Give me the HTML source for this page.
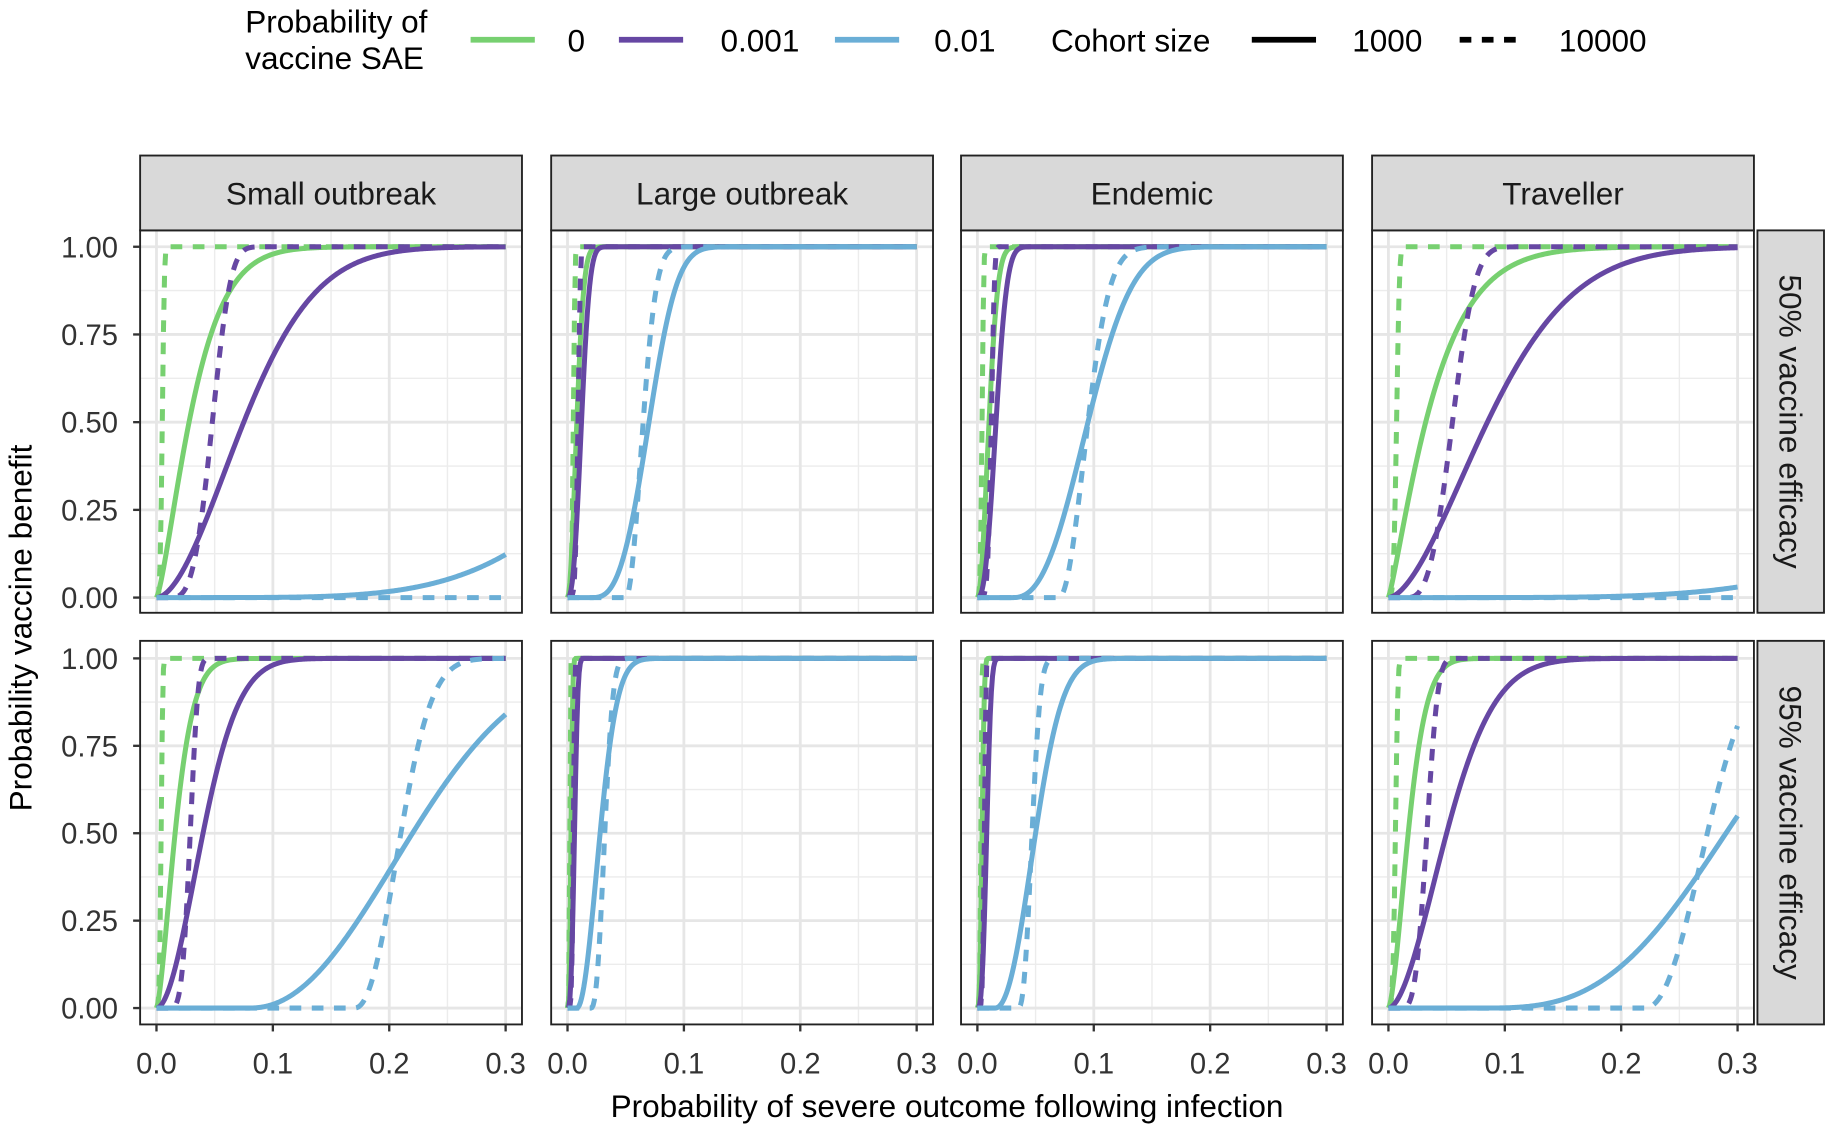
<!DOCTYPE html>
<html><head><meta charset="utf-8">
<style>
html,body{margin:0;padding:0;background:#fff;}
svg{display:block;}
text{font-family:"Liberation Sans",Arial,sans-serif;}
</style></head>
<body>
<svg id="s" width="1831" height="1125" viewBox="0 0 1568 962" preserveAspectRatio="none" xmlns="http://www.w3.org/2000/svg">
<rect width="1568" height="962" fill="#fff"/>
<!-- legend -->
<text x="210" y="28" font-size="27" fill="#000">Probability of</text>
<text x="210" y="59" font-size="27" fill="#000">vaccine SAE</text>
<line x1="403" y1="34" x2="458" y2="34" stroke="#77d070" stroke-width="5"/>
<text x="486" y="44" font-size="27">0</text>
<line x1="530" y1="34" x2="585" y2="34" stroke="#6647a3" stroke-width="5"/>
<text x="617" y="44" font-size="27">0.001</text>
<line x1="715" y1="34" x2="770" y2="34" stroke="#6aaed6" stroke-width="5"/>
<text x="800" y="44" font-size="27">0.01</text>
<text x="900" y="44" font-size="27">Cohort size</text>
<line x1="1072" y1="34" x2="1127" y2="34" stroke="#000" stroke-width="5"/>
<text x="1158" y="44" font-size="27">1000</text>
<line x1="1250" y1="34" x2="1305" y2="34" stroke="#000" stroke-width="5" stroke-dasharray="10 9"/>
<text x="1335" y="44" font-size="27">10000</text>
<text transform="translate(27,537) rotate(-90)" text-anchor="middle" font-size="27">Probability vaccine benefit</text>
<text x="811" y="955" text-anchor="middle" font-size="27">Probability of severe outcome following infection</text>
<g id="g"></g>
</svg>
<script>
(function(){
var NS="http://www.w3.org/2000/svg", g=document.getElementById("g");
function el(t,a,txt){var e=document.createElementNS(NS,t);for(var k in a)e.setAttribute(k,a[k]);if(txt!=null)e.textContent=txt;g.appendChild(e);return e;}
var lefts=[120,472,823,1175], titles=["Small outbreak","Large outbreak","Endemic","Traveller"];
var rows=[{top:197,bot:524,y1:211,y0:511,lab:"50% vaccine efficacy"},{top:548,bot:876,y1:563,y0:862,lab:"95% vaccine efficacy"}];
var G="#77d070",P="#6647a3",B="#6aaed6";
var data=[
 [
  [[G,0,0,0.028,1.35],[G,1,0,0.005,4],[P,0,0,0.075,1.8],[P,1,0.01,0.038,3.5],[B,0,0,0.42,4.95],[B,1,0,9,5]],
  [[G,0,0,0.008,2],[G,1,0,0.005,5],[P,0,0,0.012,2.5],[P,1,0,0.009,6],[B,0,0.02,0.05,3],[B,1,0.05,0.015,2]],
  [[G,0,0,0.01,2],[G,1,0,0.004,4],[P,0,0,0.016,2.5],[P,1,0,0.012,6],[B,0,0.03,0.065,2.5],[B,1,0.07,0.025,2]],
  [[G,0,0,0.032,1.2],[G,1,0,0.007,4],[P,0,0,0.085,1.7],[P,1,0.015,0.04,3],[B,0,0,0.56,5],[B,1,0,9,5]]
 ],
 [
  [[G,0,0,0.016,1.5],[G,1,0,0.004,4],[P,0,0,0.04,1.9],[P,1,0.01,0.019,4],[B,0,0.08,0.14,2.15],[B,1,0.17,0.04,2.2]],
  [[G,0,0,0.003,3],[G,1,0,0.002,5],[P,0,0,0.006,3],[P,1,0,0.005,6],[B,0,0.008,0.02,2],[B,1,0.02,0.012,2.5]],
  [[G,0,0,0.004,3],[G,1,0,0.003,5],[P,0,0,0.008,3],[P,1,0,0.006,6],[B,0,0.015,0.035,2.2],[B,1,0.035,0.012,2.5]],
  [[G,0,0,0.017,1.6],[G,1,0,0.006,4],[P,0,0,0.05,1.8],[P,1,0.01,0.023,3.5],[B,0,0.08,0.21,3.02],[B,1,0.22,0.054,2.2]]
 ]];
function f(p,c,m,b){if(p<=c)return 0;var a=m/Math.pow(Math.LN2,1/b);return 1-Math.exp(-Math.pow((p-c)/a,b));}
rows.forEach(function(r,ri){
 lefts.forEach(function(L,ci){
  var R=L+327,x0=L+14,x3=L+313;
  function X(p){return x0+(x3-x0)*p/0.3;}
  function Y(v){return r.y0+(r.y1-r.y0)*v;}
  el("rect",{x:L,y:r.top,width:327,height:r.bot-r.top,fill:"#fff"});
  for(var i=0;i<3;i++)el("line",{x1:X(0.05+0.1*i),x2:X(0.05+0.1*i),y1:r.top,y2:r.bot,stroke:"#ececec","stroke-width":1.2});
  for(var i=0;i<4;i++)el("line",{x1:L,x2:R,y1:Y(0.125+0.25*i),y2:Y(0.125+0.25*i),stroke:"#ececec","stroke-width":1.2});
  for(var i=0;i<4;i++)el("line",{x1:X(0.1*i),x2:X(0.1*i),y1:r.top,y2:r.bot,stroke:"#e6e6e6","stroke-width":2.4});
  for(var i=0;i<5;i++)el("line",{x1:L,x2:R,y1:Y(0.25*i),y2:Y(0.25*i),stroke:"#e6e6e6","stroke-width":2.4});
  data[ri][ci].forEach(function(cv){
   var d="";for(var k=0;k<=300;k++){var p=0.3*k/300;d+=(k?"L":"M")+X(p).toFixed(2)+" "+Y(f(p,cv[2],cv[3],cv[4])).toFixed(2);}
   var a={d:d,fill:"none",stroke:cv[0],"stroke-width":4.3};
   if(cv[1])a["stroke-dasharray"]="10 9";
   el("path",a);
  });
  el("rect",{x:L,y:r.top,width:327,height:r.bot-r.top,fill:"none",stroke:"#222","stroke-width":1.6});
  if(ri==0){el("rect",{x:L,y:133,width:327,height:64,fill:"#d9d9d9",stroke:"#222","stroke-width":1.6});
   el("text",{x:L+163.5,y:175,"text-anchor":"middle","font-size":27,fill:"#1a1a1a"},titles[ci]);}
  if(ri==1){for(var i=0;i<4;i++){el("line",{x1:X(0.1*i),x2:X(0.1*i),y1:r.bot,y2:r.bot+6,stroke:"#333","stroke-width":2});
   el("text",{x:X(0.1*i),y:918,"text-anchor":"middle","font-size":25,fill:"#333"},(0.1*i).toFixed(1));}}
  if(ci==0){for(var i=0;i<5;i++){el("line",{x1:L-6,x2:L,y1:Y(0.25*i),y2:Y(0.25*i),stroke:"#333","stroke-width":2});
   el("text",{x:L-19,y:Y(0.25*i)+9,"text-anchor":"end","font-size":25,fill:"#333"},(0.25*i).toFixed(2));}}
 });
 el("rect",{x:1505,y:r.top,width:57,height:r.bot-r.top,fill:"#d9d9d9",stroke:"#222","stroke-width":1.6});
 el("text",{transform:"translate(1524,"+((r.top+r.bot)/2)+") rotate(90)","text-anchor":"middle","font-size":27,fill:"#1a1a1a"},r.lab);
});
})();
</script>
</body></html>
